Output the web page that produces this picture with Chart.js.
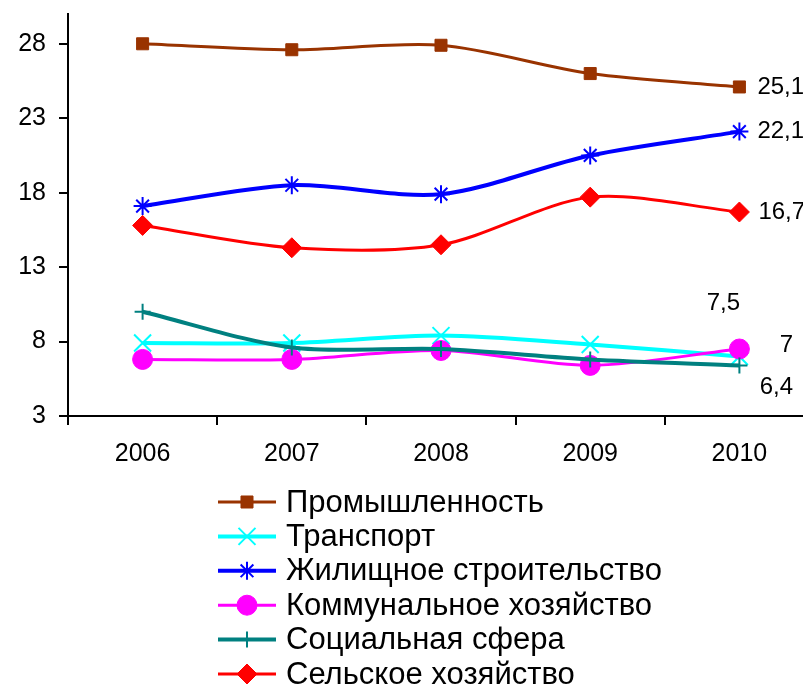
<!DOCTYPE html>
<html>
<head>
<meta charset="utf-8">
<script src="https://cdn.jsdelivr.net/npm/chart.js@4/dist/chart.umd.min.js"></script>
<style>
  html, body { margin: 0; padding: 0; background: #fff; overflow: hidden; }
  /* plot runs a little past the right edge, like the original */
  #wrap { position: relative; width: 828px; height: 687px; }
</style>
</head>
<body>
<div id="wrap"><canvas id="investChart"></canvas></div>
<script>
// categories
var years = ['2006', '2007', '2008', '2009', '2010'];

// series values
var industry    = [28.0, 27.6, 27.9, 26.0, 25.1];
var transport   = [7.9, 7.9, 8.4, 7.8, 7.0];
var housing     = [17.1, 18.5, 17.9, 20.5, 22.1];
var utilities   = [6.8, 6.8, 7.4, 6.4, 7.5];
var social      = [10.0, 7.6, 7.5, 6.8, 6.4];
var agriculture = [15.8, 14.3, 14.5, 17.7, 16.7];

// y tick labels
var yTicks = [3, 8, 13, 18, 23, 28];

var FONT = 'Arial, "Liberation Sans", sans-serif';
Chart.defaults.font.family = FONT;
Chart.defaults.color = '#000';

function series(label, data, color, style, radius, width, pointBorder) {
    return {
        label: label,
        data: data,
        borderColor: color,
        backgroundColor: color,
        pointStyle: style,
        pointRadius: radius,
        pointHoverRadius: radius,
        pointBorderWidth: pointBorder,
        borderWidth: width,
        tension: 0.3,
        fill: false
    };
}

var datasets = [
    series('Промышленность', industry, '#993300', 'rect', 8.5, 3, 1),
    series('Транспорт', transport, '#00FFFF', 'crossRot', 12, 4, 2),
    series('Жилищное строительство', housing, '#0000FF', 'star', 9, 4, 2),
    series('Коммунальное хозяйство', utilities, '#FF00FF', 'circle', 10, 3, 1),
    series('Социальная сфера', social, '#008080', 'cross', 8, 4, 2),
    series('Сельское хозяйство', agriculture, '#FF0000', 'rectRot', 10, 3, 1)
];
// later series sit on top, as in Excel
datasets.forEach(function(ds, i) { ds.order = datasets.length - i; });

// value labels next to the 2010 points
var endLabels = {
    id: 'endLabels',
    afterDatasetsDraw: function(chart, args, opts) {
        var ctx = chart.ctx;
        chart.data.datasets.forEach(function(ds, i) {
            var meta = chart.getDatasetMeta(i);
            var pt = meta.data[meta.data.length - 1];
            var off = opts.offsets[i];
            var v = ds.data[ds.data.length - 1];
            ctx.save();
            ctx.font = opts.font;
            ctx.fillStyle = '#000';
            ctx.textAlign = off.align;
            ctx.textBaseline = 'middle';
            ctx.fillText(String(v).replace('.', ','), pt.x + off.dx, pt.y + off.dy);
            ctx.restore();
        });
    }
};

// one legend entry per row, line + marker + text
var legendRows = {
    id: 'legendRows',
    afterDraw: function(chart, args, opts) {
        var ctx = chart.ctx;
        var top = chart.chartArea.bottom + opts.offsetY;
        chart.data.datasets.forEach(function(ds, i) {
            var y = top + i * opts.rowHeight;
            var cx = opts.x + opts.lineLength / 2;
            ctx.save();
            ctx.strokeStyle = ds.borderColor;
            ctx.lineWidth = ds.borderWidth;
            ctx.beginPath();
            ctx.moveTo(opts.x, y);
            ctx.lineTo(opts.x + opts.lineLength, y);
            ctx.stroke();
            ctx.fillStyle = ds.backgroundColor;
            ctx.lineWidth = ds.pointBorderWidth;
            Chart.helpers.drawPoint(ctx, {
                pointStyle: ds.pointStyle,
                radius: ds.pointRadius,
                rotation: 0,
                borderWidth: ds.pointBorderWidth
            }, cx, y);
            ctx.fillStyle = '#000';
            ctx.font = opts.font;
            ctx.textAlign = 'left';
            ctx.textBaseline = 'middle';
            ctx.fillText(ds.label, opts.x + opts.lineLength + opts.gap, y + 1);
            ctx.restore();
        });
    }
};

var ctx = document.getElementById('investChart').getContext('2d');
new Chart(ctx, {
    type: 'line',
    data: { labels: years, datasets: datasets },
    plugins: [endLabels, legendRows],
    options: {
        responsive: true,
        maintainAspectRatio: false,
        animation: false,
        layout: { padding: { top: 8, right: 6, bottom: 211, left: 0 } },
        scales: {
            x: {
                offset: true,
                grid: { offset: true, drawOnChartArea: false, drawTicks: true, tickLength: 9, color: '#000', lineWidth: 2 },
                border: { color: '#000', width: 2 },
                ticks: { font: { size: 25 }, padding: 14, maxRotation: 0 },
                afterFit: function(scale) {
                    scale.height = 60;
                    scale.paddingLeft = 0;
                    scale.paddingRight = 0;
                }
            },
            y: {
                min: 3,
                max: 30,
                grid: { drawOnChartArea: false, drawTicks: true, tickLength: 9, color: '#000', lineWidth: 2 },
                border: { color: '#000', width: 2 },
                ticks: { font: { size: 25 }, padding: 13 },
                afterBuildTicks: function(scale) {
                    scale.ticks = yTicks.map(function(v) { return { value: v }; });
                },
                afterFit: function(scale) {
                    scale.width = 68;
                    scale.paddingTop = 0;
                    scale.paddingBottom = 0;
                }
            }
        },
        plugins: {
            legend: { display: false },
            tooltip: { enabled: false },
            endLabels: {
                font: '24px ' + FONT,
                offsets: [
                    { align: 'left', dx: 18, dy: 0 },
                    { align: 'center', dx: 47, dy: -11 },
                    { align: 'left', dx: 18, dy: 0 },
                    { align: 'center', dx: -16, dy: -46 },
                    { align: 'center', dx: 37, dy: 22 },
                    { align: 'left', dx: 19, dy: 0 }
                ]
            },
            legendRows: {
                font: '31px ' + FONT,
                x: 218,
                lineLength: 58,
                gap: 10,
                offsetY: 86,
                rowHeight: 34.4
            }
        }
    }
});
</script>
</body>
</html>
